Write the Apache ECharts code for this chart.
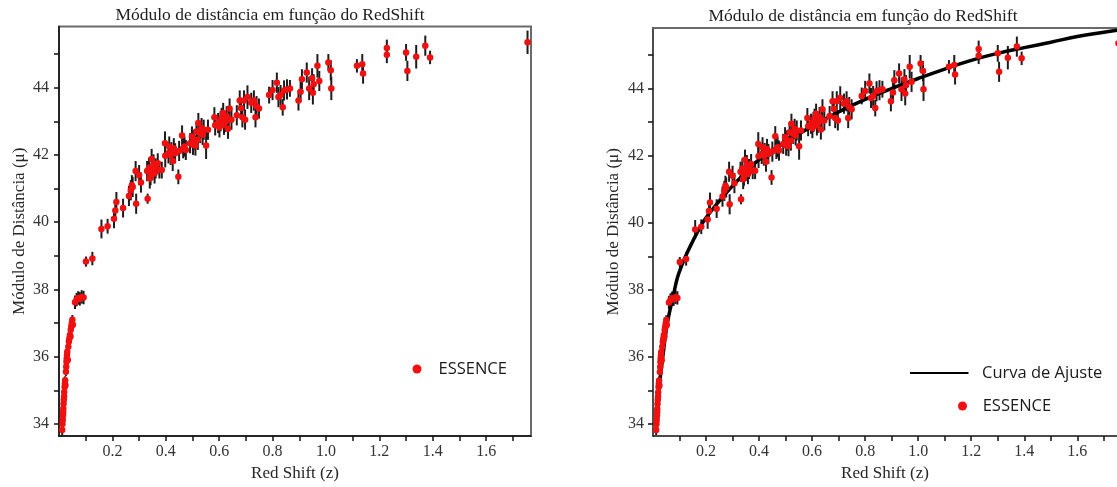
<!DOCTYPE html>
<html>
<head>
<meta charset="utf-8">
<script src="https://cdn.jsdelivr.net/npm/echarts@6/dist/echarts.min.js"></script>
<style>
html,body{margin:0;padding:0;background:#fff;}
#chart{width:1117px;height:487px;}
</style>
</head>
<body>
<div id="chart"></div>
<script>
// ---- Text ----
const chartTitle = 'Módulo de distância em função do RedShift';
const xAxisTitle = 'Red Shift (z)';
const yAxisTitle = 'Módulo de Distância (μ)';
const dataLegend = 'ESSENCE';
const fitLegend = 'Curva de Ajuste';

// ---- Tick values ----
const xTickValues = [0.1,0.2,0.3,0.4,0.5,0.6,0.7,0.8,0.9,1.0,1.1,1.2,1.3,1.4,1.5,1.6,1.7];
const xLabelValues = [0.2,0.4,0.6,0.8,1.0,1.2,1.4,1.6];
const yTickValues = [34,35,36,37,38,39,40,41,42,43,44,45];
const yLabelValues = [34,36,38,40,42,44];

// ---- ESSENCE data: redshift, distance modulus, error ----
const redshift = [
0.012,0.013,0.014,0.015,0.0155,0.016,0.017,0.018,0.019,0.0195,0.021,0.022,0.023,0.024,0.026,0.027,0.028,0.029,0.030,0.031,0.033,0.035,0.037,0.039,0.041,0.043,0.044,0.046,0.048,0.050,0.052,
0.060,0.066,0.072,0.078,0.085,0.092,0.101,0.125,0.159,0.182,0.206,0.211,0.215,0.240,0.262,0.269,0.273,0.276,0.287,0.289,0.300,0.307,
0.330,0.332,0.337,0.340,0.343,0.347,0.350,0.354,0.358,0.362,0.370,0.376,0.385,0.397,0.398,0.410,0.413,0.418,0.421,0.426,0.430,0.435,0.447,0.450,0.461,0.465,0.470,0.475,
0.491,0.498,0.502,0.505,0.511,0.515,0.520,0.522,0.529,0.534,0.538,0.542,0.551,0.558,0.582,0.585,0.596,0.601,0.605,0.609,0.615,0.618,0.623,0.628,0.633,0.636,0.639,0.646,
0.666,0.677,0.682,0.687,0.693,0.697,0.706,0.720,0.730,0.736,0.740,0.749,0.787,0.800,0.816,0.822,0.830,0.838,0.843,0.854,0.865,
0.897,0.905,0.910,0.928,0.937,0.948,0.951,0.954,0.968,0.975,1.009,1.018,1.020,1.116,1.136,1.139,1.228,1.228,1.300,1.305,1.338,1.372,1.390,1.755
];
const distanceModulus = [
33.82,34.00,34.12,34.25,34.35,34.45,34.60,34.72,34.82,34.95,35.10,35.20,35.30,35.15,35.55,35.70,35.85,35.95,36.05,36.15,35.90,36.30,36.45,36.55,36.65,36.60,36.80,36.90,37.00,37.10,36.95,
37.62,37.70,37.75,37.72,37.78,37.76,38.83,38.92,39.80,39.88,40.10,40.35,40.60,40.42,40.78,40.95,41.10,41.05,41.52,40.55,41.40,41.18,
41.52,40.70,41.62,41.30,41.40,41.88,41.55,41.72,41.45,41.60,41.75,41.55,41.55,42.35,41.98,42.05,42.25,42.00,42.08,41.82,42.20,42.05,41.35,42.12,42.58,42.20,42.25,42.15,
42.35,42.55,42.30,42.45,42.28,42.70,42.45,42.95,42.65,42.80,42.60,42.75,42.28,42.75,43.12,42.88,42.95,42.82,43.00,43.10,43.25,42.90,42.98,43.15,42.78,43.05,43.38,43.05,
43.18,43.62,43.40,43.12,43.62,43.05,43.72,43.55,43.62,43.12,43.45,43.38,43.78,43.93,44.15,43.72,43.78,43.42,43.92,43.95,43.98,
43.62,43.88,44.25,44.45,43.98,44.28,43.85,44.10,44.65,44.20,44.75,44.52,43.98,44.65,44.70,44.42,45.18,44.98,45.05,44.50,44.92,45.25,44.90,45.35
];
const errorBar = [
0.15,0.15,0.12,0.12,0.12,0.12,0.12,0.12,0.12,0.12,0.12,0.12,0.12,0.12,0.12,0.12,0.12,0.12,0.12,0.12,0.12,0.12,0.12,0.12,0.12,0.12,0.12,0.12,0.12,0.14,0.12,
0.20,0.20,0.20,0.20,0.20,0.20,0.15,0.20,0.28,0.22,0.28,0.28,0.30,0.28,0.30,0.30,0.30,0.30,0.30,0.30,0.30,0.30,
0.30,0.15,0.30,0.30,0.30,0.30,0.30,0.30,0.30,0.30,0.30,0.25,0.25,0.35,0.35,0.30,0.30,0.30,0.30,0.30,0.30,0.30,0.22,0.30,0.30,0.30,0.30,0.30,
0.30,0.30,0.30,0.30,0.30,0.30,0.30,0.30,0.30,0.30,0.30,0.30,0.40,0.30,0.30,0.30,0.30,0.30,0.30,0.30,0.30,0.30,0.30,0.30,0.30,0.30,0.30,0.30,
0.30,0.30,0.30,0.30,0.30,0.30,0.35,0.30,0.30,0.30,0.30,0.30,0.25,0.30,0.30,0.30,0.30,0.25,0.30,0.30,0.25,
0.30,0.30,0.30,0.30,0.35,0.30,0.35,0.30,0.35,0.30,0.25,0.30,0.35,0.20,0.30,0.30,0.25,0.25,0.25,0.30,0.35,0.30,0.20,0.35
];

// ---- Fit curve ----
const fitRedshift = [0.012,0.015,0.02,0.025,0.03,0.04,0.05,0.06,0.07,0.08,0.09,0.10,0.12,0.15,0.18,0.20,0.25,0.30,0.35,0.40,0.50,0.60,0.70,0.80,0.90,1.00,1.10,1.20,1.30,1.40,1.50,1.60,1.70,1.75];
const fitModulus  = [33.75,34.15,34.75,35.20,35.55,36.20,36.80,37.25,37.60,37.95,38.30,38.55,38.95,39.45,39.90,40.15,40.65,41.10,41.50,41.88,42.40,42.88,43.30,43.68,44.00,44.30,44.58,44.84,45.05,45.22,45.38,45.55,45.68,45.74];

// ---- build ----
const points = redshift.map((z, i) => [z, distanceModulus[i]]);
const bars = redshift.map((z, i) => [z, distanceModulus[i] - errorBar[i], distanceModulus[i] + errorBar[i]]);
const fitLine = fitRedshift.map((z, i) => [z, fitModulus[i]]);

const SERIF = 'Liberation Serif';
const SANS = 'Open Sans';
const TXT = '#262626';

function xAxisCfg(gridIndex, max) {
  return {
    type: 'value', gridIndex, min: 0, max,
    name: xAxisTitle, nameLocation: 'middle', nameGap: 24,
    nameTextStyle: { fontFamily: SERIF, fontSize: 17, color: TXT },
    axisLine: { show: true, onZero: false, lineStyle: { color: '#111', width: 1.5 } },
    axisTick: { show: true, length: 5, customValues: xTickValues, lineStyle: { color: '#111', width: 1.5 } },
    axisLabel: { customValues: xLabelValues, margin: 8, fontFamily: SERIF, fontSize: 16, color: '#333',
      formatter: v => Number(v).toFixed(1) },
    splitLine: { show: false }
  };
}
function yAxisCfg(gridIndex, margin) {
  return {
    type: 'value', gridIndex, min: 33.64, max: 45.82,
    name: yAxisTitle, nameLocation: 'middle', nameGap: 31, nameRotate: 90,
    nameTextStyle: { fontFamily: SERIF, fontSize: 17, color: TXT },
    axisLine: { show: true, onZero: false, lineStyle: { color: '#111', width: 1.5 } },
    axisTick: { show: true, length: 5, customValues: yTickValues, lineStyle: { color: '#111', width: 1.5 } },
    axisLabel: { customValues: yLabelValues, margin, fontFamily: SERIF, fontSize: 16, color: '#333',
      formatter: v => String(Math.round(v)) },
    splitLine: { show: false }
  };
}
function errorSeries(idx) {
  return {
    type: 'custom', name: 'erro', xAxisIndex: idx, yAxisIndex: idx, z: 1,
    data: bars, encode: { x: 0, y: [1, 2] }, clip: false, silent: true,
    renderItem: function (params, api) {
      const p1 = api.coord([api.value(0), api.value(1)]);
      const p2 = api.coord([api.value(0), api.value(2)]);
      return { type: 'line', shape: { x1: p1[0], y1: p1[1], x2: p2[0], y2: p2[1] },
               style: { stroke: '#1c1c1c', lineWidth: 2 } };
    }
  };
}
function scatterSeries(idx) {
  return {
    type: 'scatter', name: dataLegend, xAxisIndex: idx, yAxisIndex: idx, z: 3,
    data: points, symbol: 'circle', symbolSize: 6.5, silent: true, clip: false,
    itemStyle: { color: '#f01010', opacity: 1 }
  };
}

const legendText = { fontFamily: SANS, fontSize: 16.5, color: '#1a1a1a' };

const chart = echarts.init(document.getElementById('chart'), null, { renderer: 'canvas' });
chart.setOption({
  animation: false,
  backgroundColor: '#fff',
  graphic: [
    { type: 'text', x: 270, y: 15, style: { text: chartTitle, align: 'center', verticalAlign: 'middle',
      fontFamily: SERIF, fontSize: 17.5, fill: '#1e1e1e' } },
    { type: 'text', x: 863, y: 16.5, style: { text: chartTitle, align: 'center', verticalAlign: 'middle',
      fontFamily: SERIF, fontSize: 17.5, fill: '#1e1e1e' } }
  ],
  grid: [
    { left: 59, top: 26.5, width: 472, height: 413.5, show: true, borderColor: '#6a6a6a', borderWidth: 2, containLabel: false },
    { left: 653, top: 27.5, width: 464, height: 413.5, show: false, containLabel: false }
  ],
  xAxis: [
    xAxisCfg(0, 1.768),
    xAxisCfg(1, 1.7496),
    { type: 'value', gridIndex: 1, position: 'top', min: 0, max: 1.7496,
      axisLine: { show: true, onZero: false, lineStyle: { color: '#6a6a6a', width: 2 } },
      axisTick: { show: false }, axisLabel: { show: false }, splitLine: { show: false } }
  ],
  yAxis: [yAxisCfg(0, 10), yAxisCfg(1, 9)],
  legend: [
    { data: [{ name: dataLegend, icon: 'circle' }], left: 412.5, top: 360.5, itemWidth: 9, itemHeight: 9,
      padding: 0, selectedMode: false,
      textStyle: Object.assign({ padding: [0, 0, 0, 12] }, legendText) },
    { data: [{ name: fitLegend, icon: 'rect', itemStyle: { color: '#000' } }], left: 910, top: 364.5, itemWidth: 58.5, itemHeight: 2,
      symbolKeepAspect: false, padding: 0, selectedMode: false,
      textStyle: Object.assign({ padding: [0, 0, 0, 8.5] }, legendText) },
    { data: [{ name: dataLegend, icon: 'circle' }], left: 958, top: 397.5, itemWidth: 9, itemHeight: 9,
      padding: 0, selectedMode: false,
      textStyle: Object.assign({ padding: [0, 0, 0, 10.7] }, legendText) }
  ],
  series: [
    errorSeries(0),
    scatterSeries(0),
    errorSeries(1),
    { type: 'line', name: fitLegend, xAxisIndex: 1, yAxisIndex: 1, z: 2, data: fitLine,
      smooth: true, symbol: 'none', silent: true, clip: true,
      itemStyle: { color: '#000' },
      lineStyle: { color: '#000', width: 3.5 } },
    scatterSeries(1)
  ]
});
</script>
</body>
</html>
